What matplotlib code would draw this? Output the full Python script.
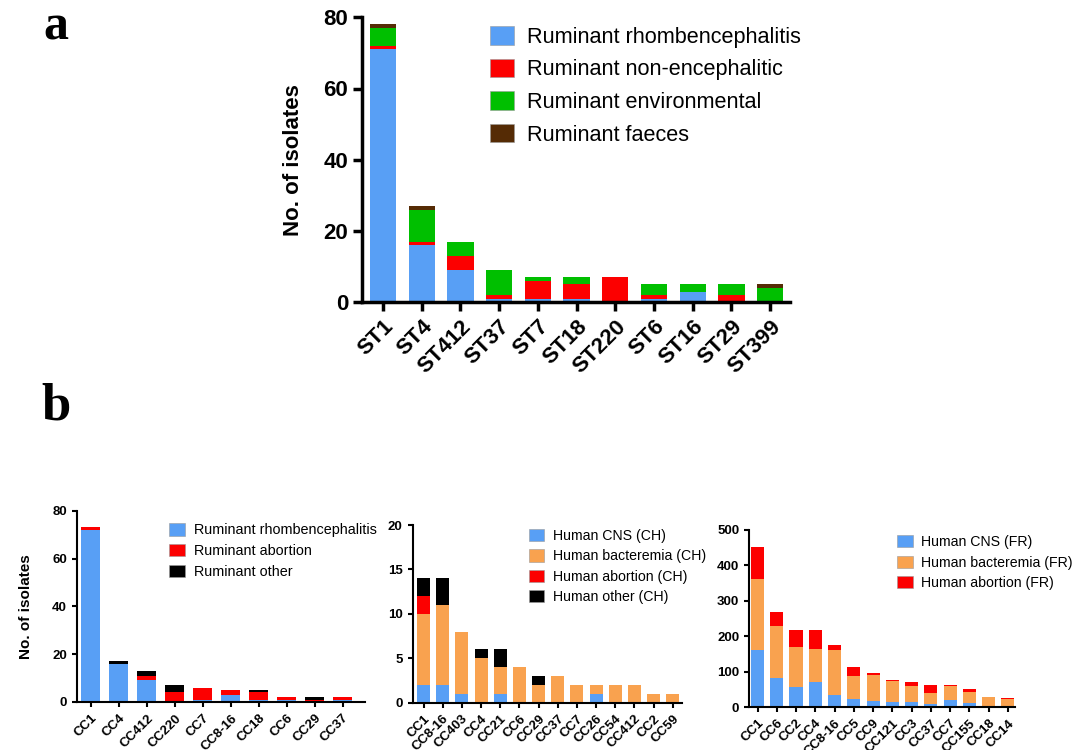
import matplotlib.pyplot as plt
import numpy as np

# panel a: sequence types, ruminant isolates
st_labels = ['ST1', 'ST4', 'ST412', 'ST37', 'ST7', 'ST18', 'ST220', 'ST6', 'ST16', 'ST29', 'ST399']
st_rhomb = [71, 16, 9, 1, 1, 1, 0, 1, 3, 0, 0]
st_nonenc = [1, 1, 4, 1, 5, 4, 7, 1, 0, 2, 0]
st_env = [5, 9, 4, 7, 1, 2, 0, 3, 2, 3, 4]
st_faeces = [1, 1, 0, 0, 0, 0, 0, 0, 0, 0, 1]

# panel b1: clonal complexes, ruminant
rum_labels = ['CC1', 'CC4', 'CC412', 'CC220', 'CC7', 'CC8-16', 'CC18', 'CC6', 'CC29', 'CC37']
rum_rhomb = [72, 16, 9, 0, 1, 3, 1, 1, 0, 1]
rum_abort = [1, 0, 2, 4, 5, 2, 3, 1, 1, 1]
rum_other = [0, 1, 2, 3, 0, 0, 1, 0, 1, 0]

# panel b2: human, Switzerland
ch_labels = ['CC1', 'CC8-16', 'CC403', 'CC4', 'CC21', 'CC6', 'CC29', 'CC37', 'CC7',
             'CC26', 'CC54', 'CC412', 'CC2', 'CC59']
ch_cns = [2, 2, 1, 0, 1, 0, 0, 0, 0, 1, 0, 0, 0, 0]
ch_bact = [8, 9, 7, 5, 3, 4, 2, 3, 2, 1, 2, 2, 1, 1]
ch_abort = [2, 0, 0, 0, 0, 0, 0, 0, 0, 0, 0, 0, 0, 0]
ch_other = [2, 3, 0, 1, 2, 0, 1, 0, 0, 0, 0, 0, 0, 0]

# panel b3: human, France
fr_labels = ['CC1', 'CC6', 'CC2', 'CC4', 'CC8-16', 'CC5', 'CC9', 'CC121', 'CC3', 'CC37',
             'CC7', 'CC155', 'CC18', 'CC14']
fr_cns = [162, 83, 56, 72, 35, 22, 17, 14, 15, 8, 19, 11, 3, 3]
fr_bact = [200, 145, 113, 92, 126, 67, 73, 61, 46, 31, 41, 32, 25, 20]
fr_abort = [88, 41, 49, 52, 14, 24, 5, 1, 11, 24, 3, 7, 2, 2]

BLUE = '#589ff5'
RED = '#fc0000'
GREEN = '#00bf00'
BROWN = '#552b05'
ORANGE = '#f9a24f'
BLACK = '#000000'

plt.rcParams['font.family'] = ['Liberation Sans', 'DejaVu Sans']


def stacked(ax, labels, series, colors, names, ymax, ystep, xlim, fs_tick, fs_leg,
            leg_anchor, lw_axis, spacing):
    x = np.arange(len(labels))
    bottom = np.zeros(len(labels))
    for vals, col, name in zip(series, colors, names):
        ax.bar(x, vals, width=0.68, bottom=bottom, color=col, label=name,
               edgecolor='none', zorder=2)
        bottom += np.array(vals)
    ax.set_xlim(*xlim)
    ax.set_ylim(0, ymax)
    ax.set_yticks(np.arange(0, ymax + 1, ystep))
    ax.set_xticks(x)
    ax.set_xticklabels(labels, rotation=45, ha='right', rotation_mode='anchor',
                       fontweight='bold', fontsize=fs_tick)
    for t in ax.get_yticklabels():
        t.set_fontweight('bold')
        t.set_fontsize(fs_tick)
    for s in ['top', 'right']:
        ax.spines[s].set_visible(False)
    for s in ['left', 'bottom']:
        ax.spines[s].set_linewidth(lw_axis)
    ax.tick_params(width=lw_axis, length=lw_axis * 2.5, direction='out')
    leg = ax.legend(loc='upper left', bbox_to_anchor=leg_anchor, frameon=False,
                    fontsize=fs_leg, handlelength=1.1, handleheight=0.95,
                    handletextpad=0.6, labelspacing=spacing, borderaxespad=0)
    for h in leg.legend_handles:
        h.set_edgecolor('#9a9a9a')
        h.set_linewidth(0.4)


fig = plt.figure(figsize=(10.83, 7.5), dpi=100)

ax_a = fig.add_axes([0.334, 0.597, 0.395, 0.38])
stacked(ax_a, st_labels, [st_rhomb, st_nonenc, st_env, st_faeces],
        [BLUE, RED, GREEN, BROWN],
        ['Ruminant rhombencephalitis', 'Ruminant non-encephalitic',
         'Ruminant environmental', 'Ruminant faeces'],
        80, 20, (-0.55, len(st_labels) - 0.5), 16, 15.6, (0.28, 1.0), 2.5, 0.5)
ax_a.set_ylabel('No. of isolates', fontsize=16, fontweight='bold', labelpad=14)

ax_b1 = fig.add_axes([0.071, 0.064, 0.266, 0.255])
stacked(ax_b1, rum_labels, [rum_rhomb, rum_abort, rum_other],
        [BLUE, RED, BLACK],
        ['Ruminant rhombencephalitis', 'Ruminant abortion', 'Ruminant other'],
        80, 20, (-0.5, len(rum_labels) - 0.2), 9.5, 10.4, (0.30, 0.965), 1.5, 0.45)
ax_b1.set_ylabel('No. of isolates', fontsize=11, fontweight='bold', labelpad=14)

ax_b2 = fig.add_axes([0.381, 0.063, 0.249, 0.237])
stacked(ax_b2, ch_labels, [ch_cns, ch_bact, ch_abort, ch_other],
        [BLUE, ORANGE, RED, BLACK],
        ['Human CNS (CH)', 'Human bacteremia (CH)', 'Human abortion (CH)',
         'Human other (CH)'],
        20, 5, (-0.57, len(ch_labels) - 0.5), 9.5, 10.2, (0.41, 1.01), 1.5, 0.45)

ax_b3 = fig.add_axes([0.692, 0.057, 0.245, 0.237])
stacked(ax_b3, fr_labels, [fr_cns, fr_bact, fr_abort],
        [BLUE, ORANGE, RED],
        ['Human CNS (FR)', 'Human bacteremia (FR)', 'Human abortion (FR)'],
        500, 100, (-0.42, len(fr_labels) - 0.64), 9.5, 10.2, (0.535, 1.0), 1.5, 0.45)

fig.text(0.052, 0.947, 'a', fontsize=36, fontweight='bold',
         family=['Liberation Serif', 'DejaVu Serif'], ha='center', va='baseline')
fig.text(0.052, 0.44, 'b', fontsize=38, fontweight='bold',
         family=['Liberation Serif', 'DejaVu Serif'], ha='center', va='baseline')

fig.savefig('out.png', dpi=100)
